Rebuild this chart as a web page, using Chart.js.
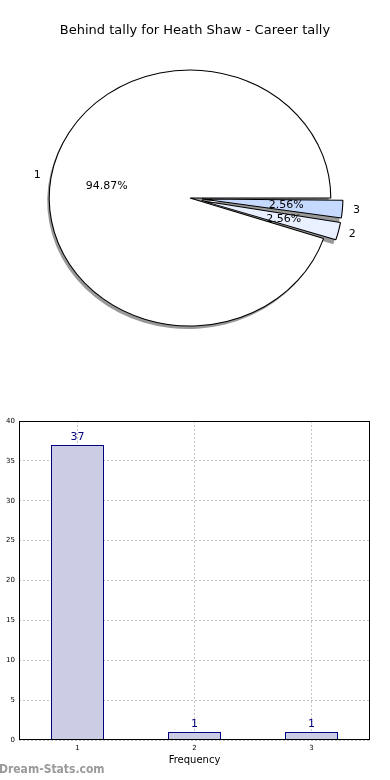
<!DOCTYPE html>
<html>
<head>
<meta charset="utf-8">
<script src="https://cdn.jsdelivr.net/npm/chart.js@4/dist/chart.umd.min.js"></script>
<style>
  html, body { margin: 0; padding: 0; background: #fff; }
  body { width: 390px; height: 780px; position: relative; overflow: hidden; font-family: "DejaVu Sans", sans-serif; }
  #title { position: absolute; left: 0; top: 22px; width: 390px; text-align: center; font-size: 13px; color: #000; }
  #pieWrap { position: absolute; left: 0; top: 0; width: 390px; height: 400px; }
  #barWrap { position: absolute; left: 0; top: 400px; width: 390px; height: 380px; }
  #mark { position: absolute; left: -1px; top: 762px; font-family: "DejaVu Sans Condensed", "DejaVu Sans", sans-serif; font-stretch: condensed; font-size: 12px; font-weight: bold; color: #9a9a9a; }
</style>
</head>
<body>
<div id="pieWrap"><canvas id="pie" width="390" height="400"></canvas></div>
<div id="title">Behind tally for Heath Shaw - Career tally</div>
<div id="barWrap"><canvas id="bar" width="390" height="380"></canvas></div>
<div id="mark">Dream-Stats.com</div>
<script>
// ---- data ----
const chartTitle = 'Behind tally for Heath Shaw - Career tally';
const categories = ['1', '2', '3'];
const counts = [37, 1, 1];
const pieColors = ['#ffffff', '#e9f0ff', '#c6d9ff'];
const explode = [0, 1, 1];
const yTicks = [0, 5, 10, 15, 20, 25, 30, 35, 40];
const xAxisTitle = 'Frequency';

// ---- pie (drawn clockwise from 3 o'clock, so order reversed to match) ----
const total = counts.reduce((a, b) => a + b, 0);
const pieLabels = categories.slice().reverse();
const pieValues = counts.slice().reverse();
const pieFill = pieColors.slice().reverse();
const pieExplode = explode.slice().reverse();
const R = 128;         // vertical radius
const SX = 1.1;        // horizontal stretch (ellipse)
const OFF = 11;        // explode distance in px

const ellipsePlugin = {
  id: 'ellipse',
  afterDatasetsUpdate(chart) {
    const arcs = chart.getDatasetMeta(0).data;
    arcs.forEach(a => {
      const off = (a.options.offset || 0) / 4;
      if (off) {
        const circ = a.endAngle - a.startAngle;
        const fix = 1 - Math.sin(Math.min(Math.PI, circ));
        a.outerRadius = R - off * fix;
      }
    });
  },
  beforeDatasetsDraw(chart) {
    const ctx = chart.ctx;
    const arcs = chart.getDatasetMeta(0).data;
    const cx = arcs[0].x, cy = arcs[0].y;
    ctx.save();
    ctx.translate(cx, cy);
    ctx.scale(SX, 1);
    ctx.translate(-cx, -cy);
    // shadow
    ctx.save();
    ctx.fillStyle = 'rgba(0,0,0,0.4)';
    arcs.forEach(a => {
      const off = (a.options.offset || 0) / 4;
      const h = (a.startAngle + a.endAngle) / 2;
      const x = a.x + Math.cos(h) * off - 2 / SX;
      const y = a.y + Math.sin(h) * off + 3;
      ctx.beginPath();
      ctx.moveTo(x, y);
      ctx.arc(x, y, R, a.startAngle, a.endAngle);
      ctx.closePath();
      ctx.fill();
    });
    ctx.restore();
  },
  afterDatasetsDraw(chart) {
    const ctx = chart.ctx;
    ctx.restore();
    const arcs = chart.getDatasetMeta(0).data;
    ctx.save();
    ctx.fillStyle = '#000';
    ctx.font = '11px "DejaVu Sans"';
    ctx.textAlign = 'center';
    ctx.textBaseline = 'middle';
    arcs.forEach((a, i) => {
      const off = (a.options.offset || 0) / 4;
      const h = (a.startAngle + a.endAngle) / 2;
      const lr = off + 1.1 * R, pr = off + 0.6 * R;
      ctx.fillText(pieLabels[i], a.x + SX * Math.cos(h) * lr, a.y + Math.sin(h) * lr);
      const pct = (pieValues[i] / total * 100).toFixed(2) + '%';
      ctx.fillText(pct, a.x + SX * Math.cos(h) * pr, a.y + Math.sin(h) * pr);
    });
    ctx.restore();
  }
};

new Chart(document.getElementById('pie'), {
  type: 'pie',
  data: {
    labels: pieLabels,
    datasets: [{
      data: pieValues,
      backgroundColor: pieFill,
      borderColor: '#000',
      borderWidth: 1,
      offset: pieExplode.map(e => e * OFF * 4),
      radius: R,
      clip: false
    }]
  },
  options: {
    responsive: false,
    animation: false,
    rotation: 90,
    layout: { padding: { left: 0, right: 10, top: 0, bottom: 4 } },
    plugins: { legend: { display: false }, tooltip: { enabled: false }, title: { display: false } },
    events: []
  },
  plugins: [ellipsePlugin]
});

// ---- bar ----
const barPlugin = {
  id: 'barExtras',
  afterDatasetsDraw(chart) {
    const ctx = chart.ctx;
    const meta = chart.getDatasetMeta(0);
    ctx.save();
    ctx.fillStyle = '#000080';
    ctx.font = '11px "DejaVu Sans"';
    ctx.textAlign = 'center';
    ctx.textBaseline = 'bottom';
    meta.data.forEach((b, i) => {
      ctx.fillText(String(counts[i]), b.x, b.y - 2);
    });
    ctx.restore();
  },
  afterDraw(chart) {
    const ctx = chart.ctx;
    const a = chart.chartArea;
    ctx.save();
    ctx.strokeStyle = '#000';
    ctx.lineWidth = 1;
    ctx.strokeRect(Math.round(a.left) + 0.5, Math.round(a.top) + 0.5, Math.round(a.right - a.left) - 1, Math.round(a.bottom - a.top) - 1);
    ctx.restore();
  }
};

new Chart(document.getElementById('bar'), {
  type: 'bar',
  data: {
    labels: categories,
    datasets: [{
      data: counts,
      backgroundColor: '#cccce5',
      borderColor: '#000080',
      borderWidth: 1,
      categoryPercentage: 1,
      barPercentage: 0.453
    }]
  },
  options: {
    responsive: false,
    animation: false,
    layout: { padding: { left: 0, right: 20, top: 21, bottom: 0 } },
    plugins: { legend: { display: false }, tooltip: { enabled: false } },
    events: [],
    scales: {
      x: {
        z: 1,
        grid: { offset: false, color: '#c4c4c4', lineWidth: 1, drawTicks: false },
        border: { display: false, dash: [2, 2] },
        ticks: { color: '#000', font: { family: 'DejaVu Sans', size: 7 }, padding: 4 },
        title: { display: true, text: xAxisTitle, color: '#000', font: { family: 'DejaVu Sans', size: 10 }, padding: { top: 0, bottom: 14 } },
        afterFit(s) { s.height = 40; }
      },
      y: {
        z: 1,
        min: 0, max: 40,
        afterBuildTicks(s) { s.ticks = yTicks.map(v => ({ value: v })); },
        grid: { color: '#c4c4c4', lineWidth: 1, drawTicks: false },
        border: { display: false, dash: [2, 2] },
        ticks: { color: '#000', font: { family: 'DejaVu Sans', size: 7 }, padding: 4 },
        afterFit(s) { s.width = 19; }
      }
    }
  },
  plugins: [barPlugin]
});
</script>
</body>
</html>
